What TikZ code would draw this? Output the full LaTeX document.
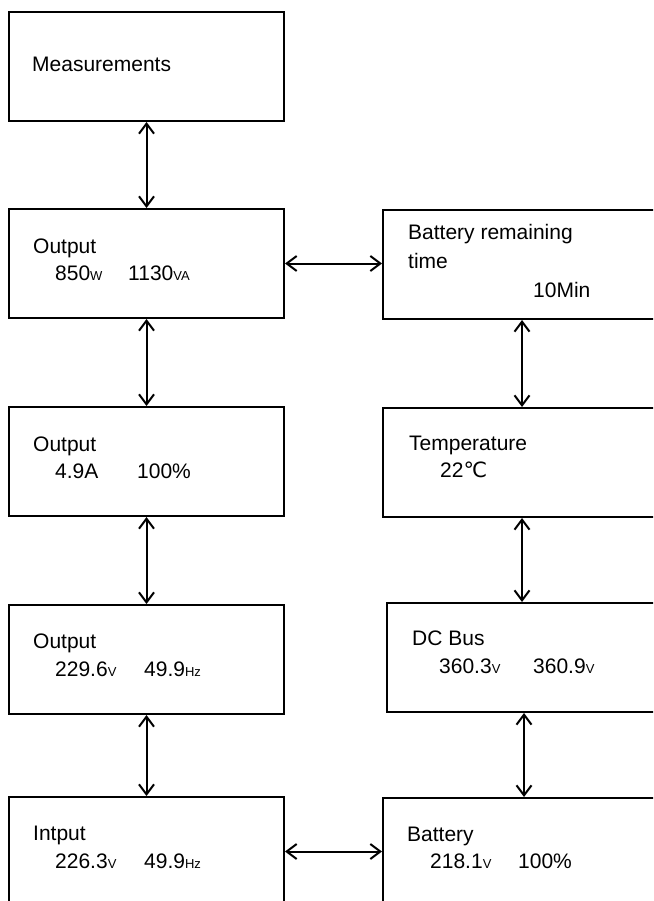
\documentclass[tikz,border=0pt]{standalone}
\usepackage{fontspec}
\setmainfont{Liberation Sans}
\newfontfamily\degfont{DejaVu Sans}
\usetikzlibrary{arrows.meta}
\newcommand{\un}[1]{{\fontsize{13}{13}\selectfont #1}}

\begin{document}
\begin{tikzpicture}[x=1pt,y=-1pt,
    panel/.style={draw,line width=2pt,anchor=north west,inner sep=0pt,
                  minimum width=275pt,minimum height=109pt},
    rpanel/.style={panel,minimum width=278pt},
    txt/.style={anchor=base west,inner sep=0pt},
    link/.style={{Straight Barb[length=10pt,width=15pt]}-{Straight Barb[length=10pt,width=15pt]},line width=2pt},
    font=\fontsize{21}{25}\selectfont]
  \useasboundingbox (0,0) rectangle (653,901);
  \clip (0,0) rectangle (653,901);
  % left column
  \node[panel] (meas) at (8,11) {};
  \node[panel] (out1) at (8,208) {};
  \node[panel] (out2) at (8,406) {};
  \node[panel] (out3) at (8,604) {};
  \node[panel] (inp) at (8,796) {};
  % right column
  \node[rpanel] (brt) at (382,209) {};
  \node[rpanel] (temp) at (382,407) {};
  \node[rpanel,minimum width=274pt] (dcb) at (386,602) {};
  \node[rpanel] (bat) at (382,797) {};
  % texts
  \node[txt] (tmeas) at (32,72) {Measurements};
  \node[txt] (tout1) at (33,253) {Output};
  \node[txt] (vout1a) at (55,280) {850\un{W}};
  \node[txt] (vout1b) at (128,280) {1130\un{VA}};
  \node[txt] (tout2) at (33,451) {Output};
  \node[txt] (vout2a) at (55,478) {4.9A};
  \node[txt] (vout2b) at (137,478) {100\%};
  \node[txt] (tout3) at (33,648) {Output};
  \node[txt] (vout3a) at (55,676) {229.6\un{V}};
  \node[txt] (vout3b) at (144,676) {49.9\un{Hz}};
  \node[txt] (tinp) at (33,840) {Intput};
  \node[txt] (vinpa) at (55,868) {226.3\un{V}};
  \node[txt] (vinpb) at (144,868) {49.9\un{Hz}};
  \node[txt] (tbrt) at (408,240) {Battery remaining};
  \node[txt] (tbrt2) at (408,268) {time};
  \node[txt] (vbrt) at (533,297) {10Min};
  \node[txt] (ttemp) at (409,450) {Temperature};
  \node[txt] (vtemp) at (440,477) {22{\degfont ℃}};
  \node[txt] (tdcb) at (412,645) {DC Bus};
  \node[txt] (vdcba) at (439,673) {360.3\un{V}};
  \node[txt] (vdcbb) at (533,673) {360.9\un{V}};
  \node[txt] (tbat) at (407,841) {Battery};
  \node[txt] (vbata) at (430,868) {218.1\un{V}};
  \node[txt] (vbatb) at (518,868) {100\%};
  % connectors
  \draw[link] (meas.south) -- (out1.north);
  \draw[link] (out1.south) -- (out2.north);
  \draw[link] (out2.south) -- (out3.north);
  \draw[link] (out3.south) -- (inp.north);
  \draw[link] (brt.south) -- (temp.north);
  \draw[link] (temp.south) -- (temp.south |- dcb.north);
  \draw[link] (dcb.south) -- (dcb.south |- bat.north);
  \draw[link] (out1.east) -- (out1.east -| brt.west);
  \draw[link] (inp.east) -- (inp.east -| bat.west);
\end{tikzpicture}
\end{document}
